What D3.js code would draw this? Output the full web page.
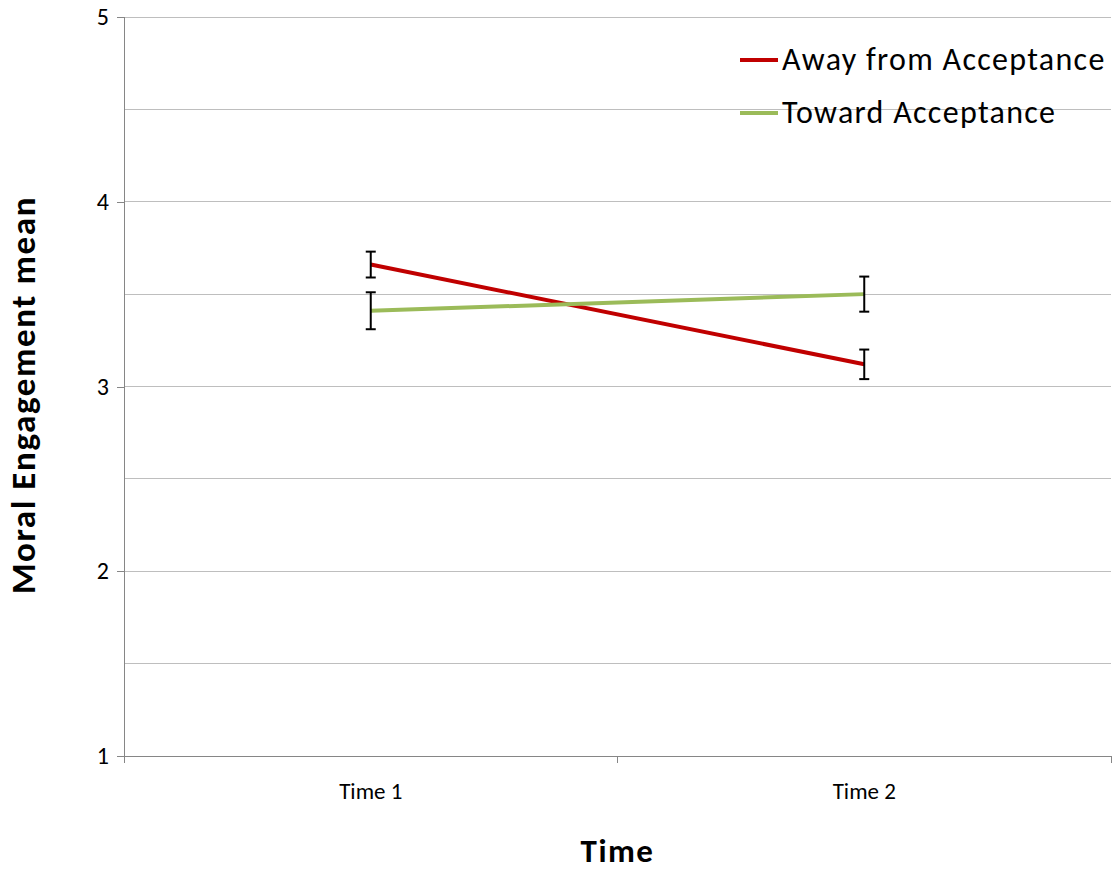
<!DOCTYPE html>
<html>
<head>
<meta charset="utf-8">
<script src="https://cdn.jsdelivr.net/npm/d3@7"></script>
<style>
  html, body { margin: 0; padding: 0; background: #fff; }
  svg { display: block; font-family: Carlito, Lato, "Open Sans", sans-serif; }
</style>
</head>
<body>
<svg id="chart" width="1113" height="870"></svg>
<script>
// Moral engagement means by time point, with error bars
const timePoints = ["Time 1", "Time 2"];
const seriesNames = ["Away from Acceptance", "Toward Acceptance"];
const seriesColors = ["#C00000", "#9BBB59"];
const awayMeans = [3.66, 3.12];
const awayErrors = [0.07, 0.08];
const towardMeans = [3.41, 3.50];
const towardErrors = [0.10, 0.095];
const yTickValues = [1, 2, 3, 4, 5];
const yGridValues = [1.5, 2, 2.5, 3, 3.5, 4, 4.5, 5];

const series = [
  { name: seriesNames[0], color: seriesColors[0], means: awayMeans, errors: awayErrors },
  { name: seriesNames[1], color: seriesColors[1], means: towardMeans, errors: towardErrors }
];

const svg = d3.select("#chart");
const plot = { left: 124, right: 1111, top: 17, bottom: 756 };

const x = d3.scaleBand().domain(timePoints).range([plot.left, plot.right]);
const y = d3.scaleLinear().domain([1, 5]).range([plot.bottom, plot.top]);

// horizontal gridlines
svg.append("g")
  .selectAll("line")
  .data(yGridValues)
  .join("line")
  .attr("x1", plot.left).attr("x2", plot.right)
  .attr("y1", d => y(d)).attr("y2", d => y(d))
  .attr("stroke", "#BEBEBE").attr("stroke-width", 1)
  .attr("shape-rendering", "crispEdges");

// y axis
const yAxis = svg.append("g")
  .attr("transform", `translate(${plot.left},0)`)
  .call(d3.axisLeft(y).tickValues(yTickValues).tickSize(7).tickPadding(8).tickFormat(d3.format("d")));
yAxis.selectAll("path, line").attr("stroke", "#868686").attr("shape-rendering", "crispEdges");
yAxis.select(".domain").attr("d", `M-7,${plot.top}H0V${plot.bottom}`);
yAxis.selectAll("text").attr("font-size", 24).attr("fill", "#000").attr("font-family", "Carlito, Lato, sans-serif");

// x axis with ticks at band boundaries
const xAxisG = svg.append("g").attr("transform", `translate(0,${plot.bottom})`);
xAxisG.append("line")
  .attr("x1", plot.left - 7).attr("x2", plot.right)
  .attr("stroke", "#868686").attr("shape-rendering", "crispEdges");
const boundaries = [x(timePoints[0]), x(timePoints[1]), x(timePoints[1]) + x.bandwidth()];
xAxisG.selectAll("line.tick")
  .data(boundaries)
  .join("line")
  .attr("class", "tick")
  .attr("x1", d => d).attr("x2", d => d)
  .attr("y1", 0).attr("y2", 7)
  .attr("stroke", "#868686").attr("shape-rendering", "crispEdges");
xAxisG.selectAll("text")
  .data(timePoints)
  .join("text")
  .attr("x", d => x(d) + x.bandwidth() / 2)
  .attr("y", 43)
  .attr("text-anchor", "middle")
  .attr("font-size", 23)
  .text(d => d);

const cx = d => x(d) + x.bandwidth() / 2;

// series lines
const line = d3.line().x(d => cx(d.t)).y(d => y(d.v));
series.forEach(s => {
  const pts = timePoints.map((t, i) => ({ t, v: s.means[i] }));
  svg.append("path")
    .datum(pts)
    .attr("d", line)
    .attr("fill", "none")
    .attr("stroke", s.color)
    .attr("stroke-width", 4)
    .attr("stroke-linecap", "butt");
});

// error bars
series.forEach(s => {
  const g = svg.append("g").attr("stroke", "#000").attr("stroke-width", 2);
  timePoints.forEach((t, i) => {
    const px = cx(t);
    const hi = y(s.means[i] + s.errors[i]);
    const lo = y(s.means[i] - s.errors[i]);
    g.append("line").attr("x1", px).attr("x2", px).attr("y1", hi).attr("y2", lo);
    g.append("line").attr("x1", px - 5).attr("x2", px + 5).attr("y1", hi).attr("y2", hi);
    g.append("line").attr("x1", px - 5).attr("x2", px + 5).attr("y1", lo).attr("y2", lo);
  });
});

// legend
const legend = svg.append("g").attr("transform", "translate(740,60)");
series.forEach((s, i) => {
  const row = legend.append("g").attr("transform", `translate(0,${i * 53})`);
  row.append("line").attr("x1", 0).attr("x2", 38).attr("y1", 0).attr("y2", 0)
    .attr("stroke", s.color).attr("stroke-width", 4);
  row.append("text").attr("x", 42).attr("y", 10).attr("font-size", 32)
    .attr("letter-spacing", 1.3).text(s.name);
});

// axis titles
svg.append("text")
  .attr("x", (plot.left + plot.right) / 2)
  .attr("y", 862)
  .attr("text-anchor", "middle")
  .attr("font-size", 33)
  .attr("font-weight", "bold")
  .attr("letter-spacing", 1.5)
  .text("Time");
svg.append("text")
  .attr("transform", `translate(35,${395}) rotate(-90)`)
  .attr("text-anchor", "middle")
  .attr("font-size", 35)
  .attr("font-weight", "bold")
  .attr("letter-spacing", 1.6)
  .text("Moral Engagement mean");
</script>
</body>
</html>
